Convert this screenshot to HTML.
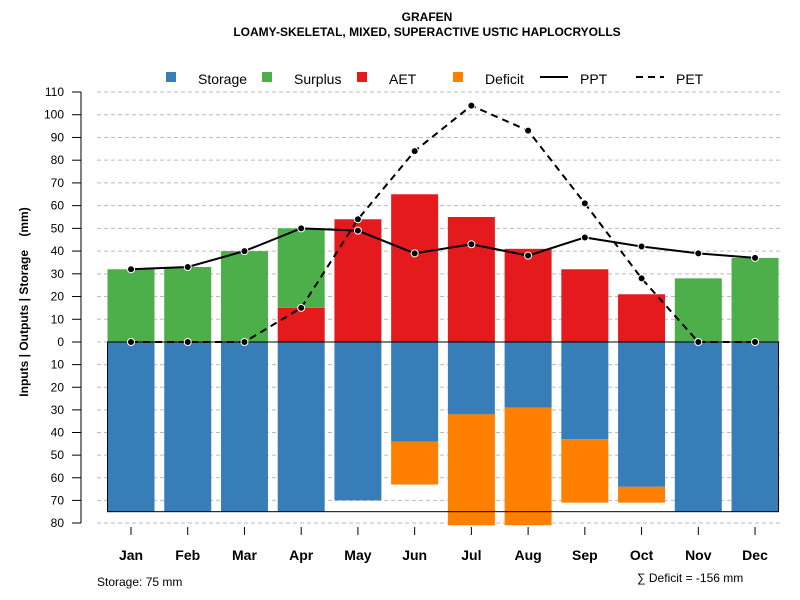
<!DOCTYPE html>
<html><head><meta charset="utf-8"><style>
body{margin:0;background:#fff}
svg{display:block;font-family:"Liberation Sans",Arial,sans-serif}
</style></head><body>
<svg id="chart" width="800" height="600" xmlns="http://www.w3.org/2000/svg">
<text x="427" y="21" text-anchor="middle" font-size="12" font-weight="bold">GRAFEN</text>
<text x="427" y="36" text-anchor="middle" font-size="12" font-weight="bold">LOAMY-SKELETAL, MIXED, SUPERACTIVE USTIC HAPLOCRYOLLS</text>
<g id="grid"></g>
<g id="bars"></g>
<g id="lines"></g>
<g id="axes"></g>
<g font-size="14">
<rect x="166" y="72" width="10" height="10" fill="#377EB8"/>
<text x="198" y="84">Storage</text>
<rect x="262" y="72" width="10" height="10" fill="#4DAF4A"/>
<text x="294" y="84">Surplus</text>
<rect x="357" y="72" width="10" height="10" fill="#E41A1C"/>
<text x="389" y="84">AET</text>
<rect x="453" y="72" width="10" height="10" fill="#FF7F00"/>
<text x="485" y="84">Deficit</text>
<line x1="540" y1="77" x2="568" y2="77" stroke="#000" stroke-width="2"/>
<text x="580" y="84">PPT</text>
<line x1="636" y1="77" x2="664" y2="77" stroke="#000" stroke-width="2" stroke-dasharray="7,5"/>
<text x="676" y="84">PET</text>
</g>
<text transform="translate(28,302) rotate(-90)" text-anchor="middle" font-size="12" font-weight="bold" xml:space="preserve" style="white-space:pre">Inputs | Outputs | Storage    (mm)</text>
<text x="97" y="586" font-size="12">Storage: 75 mm</text>
<text x="637" y="582" font-size="12">∑ Deficit = -156 mm</text>
</svg>
<script>
const months=["Jan","Feb","Mar","Apr","May","Jun","Jul","Aug","Sep","Oct","Nov","Dec"];
const surplus=[32,33,40,35,0,0,0,0,0,0,28,37];
const aet=[0,0,0,15,54,65,55,41,32,21,0,0];
const storage=[75,75,75,75,70,44,32,29,43,64,75,75];
const deficit=[0,0,0,0,0,19,49,52,28,7,0,0];
const ppt=[32,33,40,50,49,39,43,38,46,42,39,37];
const pet=[0,0,0,15,54,84,104,93,61,28,0,0];
const yTicksUp=[0,10,20,30,40,50,60,70,80,90,100,110];
const yTicksDown=[10,20,30,40,50,60,70,80];
const storageCap=75;
const NS="http://www.w3.org/2000/svg";
const y0=342,kUp=250/110,kDown=181/80;
function yU(v){return y0-v*kUp;}
function yD(v){return y0+v*kDown;}
function xC(i){return 131+i*56.73;}
const bw=47;
function mk(tag,attrs,parent){const e=document.createElementNS(NS,tag);for(const k in attrs)e.setAttribute(k,attrs[k]);document.getElementById(parent).appendChild(e);return e;}
yTicksUp.forEach(t=>{const l=mk('line',{x1:97,x2:780,y1:yU(t),y2:yU(t),stroke:'#bbb','stroke-dasharray':'4,3'},'grid');

});
yTicksDown.forEach(t=>{const l=mk('line',{x1:97,x2:780,y1:yD(t),y2:yD(t),stroke:'#bbb','stroke-dasharray':'4,3'},'grid');

});
months.forEach((m,i)=>{
 const x=xC(i)-bw/2;
 if(aet[i]>0){const r=mk('rect',{x:x,y:yU(aet[i]),width:bw,height:aet[i]*kUp,fill:'#E41A1C'},'bars');
 
 }
 if(surplus[i]>0){const r=mk('rect',{x:x,y:yU(aet[i]+surplus[i]),width:bw,height:surplus[i]*kUp,fill:'#4DAF4A'},'bars');
 
 }
 const s=mk('rect',{x:x,y:y0,width:bw,height:storage[i]*kDown,fill:'#377EB8'},'bars');
 
 
 if(deficit[i]>0){const r=mk('rect',{x:x,y:yD(storage[i]),width:bw,height:deficit[i]*kDown,fill:'#FF7F00'},'bars');
 
 }
});
const box=mk('rect',{x:xC(0)-bw/2,y:y0,width:xC(11)+bw/2-(xC(0)-bw/2),height:storageCap*kDown,fill:'none',stroke:'#000','stroke-width':1},'bars');


function line(arr,dash,name){
 const p=mk('polyline',{points:arr.map((v,i)=>xC(i)+','+yU(v)).join(' '),fill:'none',stroke:'#000','stroke-width':2,'stroke-dasharray':dash},'lines');
 
 
 arr.forEach((v,i)=>{const c=mk('circle',{cx:xC(i),cy:yU(v),r:3.5,fill:'#000',stroke:'#fff','stroke-width':1},'lines');
 
 });
}
line(ppt,'none','ppt');
line(pet,'7,5','pet');
const ax=mk('line',{x1:81,x2:81,y1:yU(110),y2:yD(80),stroke:'#000'},'axes');


function ytick(y,lab){
 const t=mk('line',{x1:72,x2:81,y1:y,y2:y,stroke:'#000'},'axes');
 
 
 const tx=mk('text',{x:64,y:y+4,'text-anchor':'end','font-size':12},'axes');tx.textContent=lab;
 
 
}
yTicksUp.forEach(t=>ytick(yU(t),t));
yTicksDown.forEach(t=>ytick(yD(t),t));
months.forEach((m,i)=>{
 const t=mk('line',{x1:xC(i),x2:xC(i),y1:527,y2:535,stroke:'#000'},'axes');
 
 
 const tx=mk('text',{x:xC(i),y:560,'text-anchor':'middle','font-size':14,'font-weight':'bold'},'axes');tx.textContent=m;
 
 
});
</script>
</body></html>
